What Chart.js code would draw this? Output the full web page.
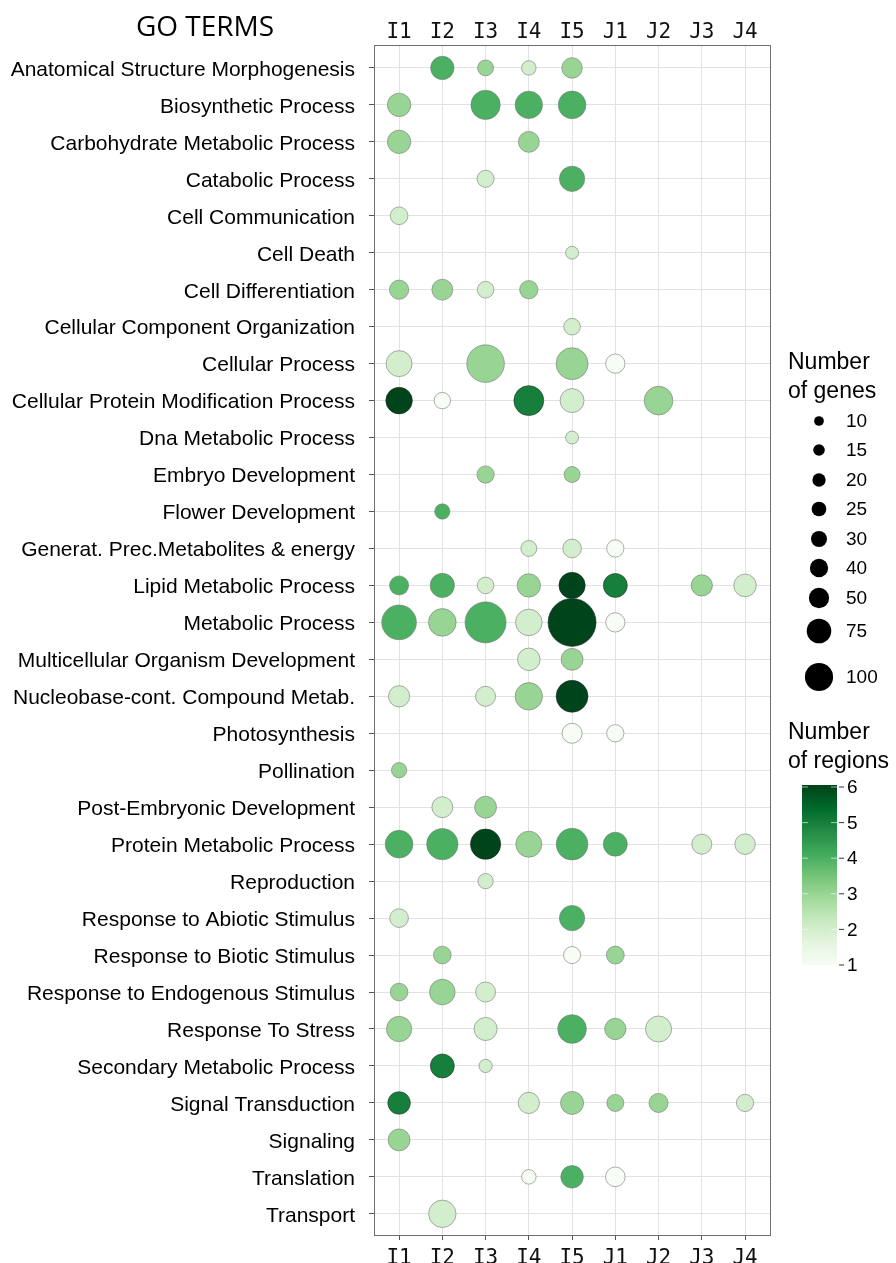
<!DOCTYPE html>
<html>
<head>
<meta charset="utf-8">
<title>GO terms</title>
<script src="https://cdn.jsdelivr.net/npm/chart.js@4.4.1/dist/chart.umd.min.js"></script>
<style>
  html, body { margin: 0; padding: 0; background: #fff; }
  #wrap { width: 896px; height: 1263px; }
</style>
</head>
<body>
<div id="wrap"><canvas id="chart" width="896" height="1263"></canvas></div>
<script>
// GO terms (y axis, top to bottom)
const terms = [
  "Anatomical Structure Morphogenesis", "Biosynthetic Process", "Carbohydrate Metabolic Process",
  "Catabolic Process", "Cell Communication", "Cell Death", "Cell Differentiation",
  "Cellular Component Organization", "Cellular Process", "Cellular Protein Modification Process",
  "Dna Metabolic Process", "Embryo Development", "Flower Development",
  "Generat. Prec.Metabolites & energy", "Lipid Metabolic Process", "Metabolic Process",
  "Multicellular Organism Development", "Nucleobase-cont. Compound Metab.", "Photosynthesis",
  "Pollination", "Post-Embryonic Development", "Protein Metabolic Process", "Reproduction",
  "Response to Abiotic Stimulus", "Response to Biotic Stimulus", "Response to Endogenous Stimulus",
  "Response To Stress", "Secondary Metabolic Process", "Signal Transduction", "Signaling",
  "Translation", "Transport"
];
const samples = ["I1", "I2", "I3", "I4", "I5", "J1", "J2", "J3", "J4"];

// per sample: row index in terms, number of genes, number of regions
const rowsI1    = [1, 2, 4, 6, 8, 9, 14, 15, 17, 19, 21, 23, 25, 26, 28, 29];
const genesI1   = [75, 75, 43, 51, 93, 97, 50, 165, 62, 32, 105, 48, 43, 88, 70, 66];
const regionsI1 = [3, 3, 2, 3, 2, 6, 4, 4, 2, 3, 4, 2, 3, 3, 5, 3];

const rowsI2    = [0, 6, 9, 12, 14, 15, 20, 21, 24, 25, 27, 31];
const genesI2   = [75, 60, 37, 32, 81, 105, 60, 135, 43, 90, 79, 103];
const regionsI2 = [4, 3, 1, 4, 4, 3, 2, 4, 3, 3, 5, 2];

const rowsI3    = [0, 1, 3, 6, 8, 11, 14, 15, 17, 20, 21, 22, 25, 26, 27];
const genesI3   = [35, 118, 40, 38, 194, 41, 38, 231, 55, 66, 126, 32, 55, 73, 24];
const regionsI3 = [3, 4, 2, 2, 3, 3, 2, 4, 2, 3, 6, 2, 2, 2, 2];

const rowsI4    = [0, 1, 2, 6, 9, 13, 14, 15, 16, 17, 21, 28, 30];
const genesI4   = [29, 103, 60, 46, 123, 35, 75, 97, 70, 103, 93, 62, 29];
const regionsI4 = [2, 4, 3, 3, 5, 2, 3, 2, 2, 3, 3, 2, 1];

const rowsI5    = [0, 1, 3, 5, 7, 8, 9, 10, 11, 13, 14, 15, 16, 17, 18, 21, 23, 24, 26, 28, 30];
const genesI5   = [58, 105, 88, 23, 38, 140, 79, 23, 35, 48, 95, 316, 66, 140, 55, 138, 88, 40, 113, 73, 70];
const regionsI5 = [3, 4, 4, 2, 2, 3, 2, 2, 3, 2, 6, 6, 3, 6, 1, 4, 4, 1, 4, 3, 4];

const rowsJ1    = [8, 13, 14, 15, 18, 21, 24, 26, 28, 30];
const genesJ1   = [51, 41, 79, 51, 41, 79, 44, 62, 40, 53];
const regionsJ1 = [1, 1, 5, 1, 1, 4, 3, 3, 3, 1];

const rowsJ2    = [9, 26, 28];
const genesJ2   = [113, 93, 50];
const regionsJ2 = [3, 2, 3];

const rowsJ3    = [14, 21];
const genesJ3   = [62, 55];
const regionsJ3 = [3, 2];

const rowsJ4    = [14, 21, 28];
const genesJ4   = [70, 58, 41];
const regionsJ4 = [2, 2, 2];

// legends
const geneLegend = [10, 15, 20, 25, 30, 40, 50, 75, 100];
const regionLegend = [1, 2, 3, 4, 5, 6];

// colour ramp (Greens)
const greens = ["#f7fcf5", "#e5f5e0", "#c7e9c0", "#a1d99b", "#74c476", "#41ab5d", "#238b45", "#006d2c", "#00441b"];

const columns = [
  [rowsI1, genesI1, regionsI1], [rowsI2, genesI2, regionsI2], [rowsI3, genesI3, regionsI3],
  [rowsI4, genesI4, regionsI4], [rowsI5, genesI5, regionsI5], [rowsJ1, genesJ1, regionsJ1],
  [rowsJ2, genesJ2, regionsJ2], [rowsJ3, genesJ3, regionsJ3], [rowsJ4, genesJ4, regionsJ4]
];

function hexToRgb(h) {
  const n = parseInt(h.slice(1), 16);
  return [(n >> 16) & 255, (n >> 8) & 255, n & 255];
}

function regionColor(n) {
  const t = (n - 1) / 5 * (greens.length - 1);
  const i = Math.min(Math.floor(t), greens.length - 2);
  const f = t - i;
  const a = hexToRgb(greens[i]), b = hexToRgb(greens[i + 1]);
  const c = a.map((v, k) => Math.round(v + (b[k] - v) * f));
  return `rgb(${c[0]},${c[1]},${c[2]})`;
}

// bubble radius from number of genes
const radius = g => 1.35 * Math.sqrt(g);

const datasets = columns.map(([rows, genes, regions], si) => ({
  label: samples[si],
  data: rows.map((r, k) => ({ x: si, y: r, r: radius(genes[k]) })),
  backgroundColor: regions.map(regionColor),
  borderColor: regions.map(n => n >= 5 ? "rgba(40,40,40,0.55)" : "rgba(120,120,120,0.6)"),
  borderWidth: 1
}));

const labelFont = '"Liberation Sans", Arial, sans-serif';

// panel border, title and legends
const extras = {
  id: "extras",
  afterDatasetsDraw(chart) {
    const ctx = chart.ctx;
    const a = chart.chartArea;
    ctx.save();
    ctx.strokeStyle = "#6e6e6e";
    ctx.lineWidth = 1;
    ctx.strokeRect(a.left + 0.5, a.top + 0.5, a.right - a.left - 1, a.bottom - a.top - 1);

    ctx.fillStyle = "#000";
    ctx.font = '28px "Open Sans", sans-serif';
    ctx.textAlign = "center";
    ctx.textBaseline = "alphabetic";
    ctx.fillText("GO TERMS", 205, 36);

    // size legend
    ctx.textAlign = "left";
    ctx.font = "23px " + labelFont;
    ctx.fillText("Number", 788, 369);
    ctx.fillText("of genes", 788, 398);
    const keyY = [421, 450, 480, 509, 539, 568, 598, 631, 677];
    ctx.font = "19px " + labelFont;
    ctx.textBaseline = "middle";
    geneLegend.forEach((g, i) => {
      ctx.beginPath();
      ctx.arc(819, keyY[i], radius(g) + 0.6, 0, Math.PI * 2);
      ctx.fillStyle = "#000";
      ctx.fill();
      ctx.fillText(String(g), 846, keyY[i] + 1);
    });

    // colour legend
    ctx.textBaseline = "alphabetic";
    ctx.font = "23px " + labelFont;
    ctx.fillText("Number", 788, 739);
    ctx.fillText("of regions", 788, 768);
    const y1 = 965, y6 = 787, bx = 802, bw = 35;
    const grad = ctx.createLinearGradient(0, y1, 0, y6);
    greens.forEach((c, i) => grad.addColorStop(i / (greens.length - 1), c));
    ctx.fillStyle = grad;
    ctx.fillRect(bx, y6 - 2, bw, y1 - y6 + 2);
    ctx.font = "19px " + labelFont;
    ctx.textBaseline = "middle";
    regionLegend.forEach(v => {
      const y = y1 - (v - 1) / 5 * (y1 - y6);
      ctx.strokeStyle = "rgba(255,255,255,0.6)";
      ctx.beginPath();
      ctx.moveTo(bx, y); ctx.lineTo(bx + 6, y);
      ctx.moveTo(bx + bw - 6, y); ctx.lineTo(bx + bw, y);
      ctx.stroke();
      ctx.strokeStyle = "#333";
      ctx.beginPath();
      ctx.moveTo(bx + bw + 2, y); ctx.lineTo(bx + bw + 7, y);
      ctx.stroke();
      ctx.fillStyle = "#000";
      ctx.fillText(String(v), 847, y + 1);
    });
    ctx.restore();
  }
};

const sampleTicks = scale => { scale.ticks = samples.map((s, i) => ({ value: i })); };
const monoFont = { family: '"DejaVu Sans Mono", monospace', size: 21 };

new Chart(document.getElementById("chart"), {
  type: "bubble",
  data: { datasets },
  options: {
    responsive: false,
    animation: false,
    devicePixelRatio: 1,
    layout: { padding: { left: 0, right: 125, top: 0, bottom: 0 } },
    plugins: { legend: { display: false }, tooltip: { enabled: false } },
    scales: {
      x: {
        type: "linear",
        position: "bottom",
        min: -0.58, max: 8.6,
        afterBuildTicks: sampleTicks,
        afterFit: s => { s.height = 27; },
        grid: { color: "#e2e2e2", tickColor: "#555", tickLength: 4 },
        border: { display: false },
        ticks: { callback: v => samples[v] ?? "", color: "#111", font: monoFont, padding: 6, maxRotation: 0 }
      },
      x2: {
        type: "linear",
        position: "top",
        display: true,
        min: -0.58, max: 8.6,
        afterBuildTicks: sampleTicks,
        afterFit: s => { s.height = 45; },
        grid: { display: false, drawTicks: false },
        border: { display: false },
        ticks: { callback: v => samples[v] ?? "", color: "#111", font: monoFont, padding: 0, maxRotation: 0 }
      },
      y: {
        type: "linear",
        reverse: true,
        min: -0.62, max: 31.6,
        afterBuildTicks: scale => { scale.ticks = terms.map((t, i) => ({ value: i })); },
        afterFit: s => { s.width = 374; },
        grid: { color: "#e2e2e2", tickColor: "#555", tickLength: 5 },
        border: { display: false },
        ticks: {
          callback: v => terms[v] ?? "",
          color: "#000",
          font: { family: labelFont, size: 21 },
          padding: 14,
          labelOffset: 2,
          autoSkip: false
        }
      }
    }
  },
  plugins: [extras]
});
</script>
</body>
</html>
